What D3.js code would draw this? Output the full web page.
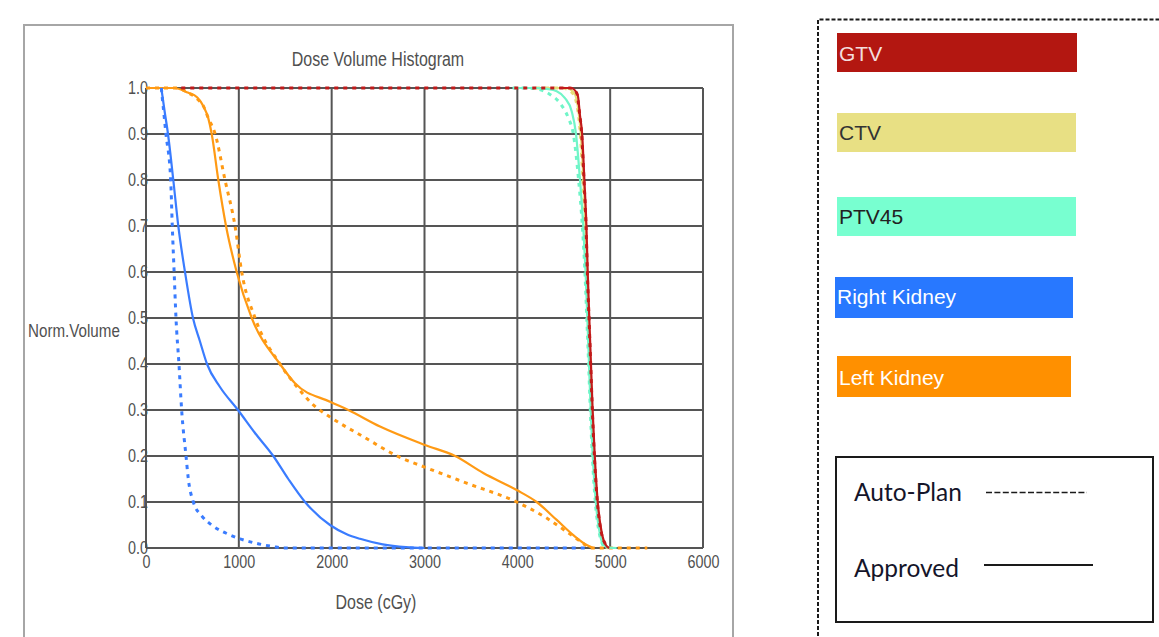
<!DOCTYPE html>
<html>
<head>
<meta charset="utf-8">
<script src="https://cdn.jsdelivr.net/npm/d3@7/dist/d3.min.js"></script>
<style>
  html, body { margin: 0; padding: 0; background: #fff; }
  svg { display: block; }
</style>
</head>
<body>
<svg id="chart" width="1159" height="637"></svg>
<script>
// ---------------- DATA (dose cGy, normalized volume) ----------------
const xTicks = [0, 1000, 2000, 3000, 4000, 5000, 6000];
const yTicks = [0.0, 0.1, 0.2, 0.3, 0.4, 0.5, 0.6, 0.7, 0.8, 0.9, 1.0];

const structures = ["GTV", "CTV", "PTV45", "Right Kidney", "Left Kidney"];
const structureColors = ["#b31711", "#e8e084", "#78ffd0", "#2878ff", "#ff9000"];
const lineColors = ["#c21a1a", "#e6dc78", "#70f5c8", "#3a7cff", "#ff9a14"];
const legendTextColors = ["#f3dede", "#333333", "#222222", "#ffffff", "#ffffff"];

const planTypes = ["Auto-Plan", "Approved"];

const rightKidneyAuto = [[165,1.0],[215,0.9],[266,0.8],[283,0.7],[303,0.6],[323,0.5],[355,0.4],[384,0.3],[431,0.2],[456,0.15],[510,0.1],[600,0.07],[707,0.05],[887,0.03],[1012,0.02],[1192,0.01],[1370,0.003],[1480,0],[4750,0]];
const rightKidneyApproved = [[165,1.0],[200,0.95],[237,0.9],[294,0.8],[348,0.7],[420,0.6],[506,0.5],[580,0.45],[657,0.4],[797,0.35],[991,0.3],[1174,0.25],[1371,0.2],[1533,0.15],[1713,0.1],[1982,0.05],[2162,0.03],[2305,0.02],[2550,0.008],[2800,0.002],[3000,0]];

const leftKidneyAuto = [[0,1.0],[330,1.0],[450,0.99],[560,0.975],[620,0.96],[670,0.935],[745,0.9],[851,0.8],[959,0.7],[1031,0.6],[1175,0.5],[1443,0.4],[1623,0.351],[1802,0.311],[1982,0.285],[2341,0.242],[2736,0.197],[2987,0.177],[3454,0.141],[3993,0.1],[4316,0.065],[4531,0.0355],[4711,0.01],[4783,0],[5400,0]];
const leftKidneyApproved = [[0,1.0],[300,1.0],[450,0.99],[550,0.98],[620,0.96],[670,0.935],[708,0.9],[779,0.8],[862,0.7],[977,0.6],[1139,0.5],[1443,0.4],[1605,0.358],[1982,0.318],[2179,0.3],[2521,0.264],[3005,0.224],[3330,0.2],[3633,0.163],[3993,0.126],[4208,0.1],[4424,0.061],[4603,0.028],[4747,0.0065],[4818,0]];

const gtvAuto = [[380,1.0],[4567,1.0],[4640,0.989],[4668,0.949],[4693,0.9],[4718,0.8],[4740,0.7],[4754,0.6],[4772,0.5],[4790,0.4],[4808,0.3],[4830,0.2],[4862,0.1],[4909,0.03],[4950,0.008],[4980,0]];
const gtvApproved = [[4450,1.0],[4580,1.0],[4650,0.985],[4675,0.94],[4698,0.9],[4722,0.8],[4744,0.7],[4758,0.6],[4775,0.5],[4793,0.4],[4811,0.3],[4834,0.2],[4866,0.1],[4912,0.03],[4955,0.006],[4990,0]];

const ctvAuto = [[4200,1.0],[4480,1.0],[4590,0.99],[4645,0.96],[4678,0.9],[4706,0.8],[4730,0.7],[4747,0.6],[4765,0.5],[4783,0.4],[4801,0.3],[4823,0.2],[4855,0.1],[4902,0.03],[4940,0.006],[4975,0]];
const ctvApproved = [[4300,1.0],[4520,1.0],[4610,0.99],[4655,0.955],[4684,0.9],[4712,0.8],[4735,0.7],[4751,0.6],[4768,0.5],[4786,0.4],[4804,0.3],[4826,0.2],[4858,0.1],[4905,0.03],[4945,0.006],[4985,0]];

const ptvAuto = [[3950,1.0],[4100,1.0],[4208,0.998],[4352,0.986],[4460,0.967],[4549,0.935],[4603,0.9],[4660,0.8],[4700,0.7],[4728,0.6],[4748,0.5],[4768,0.4],[4786,0.3],[4808,0.2],[4840,0.1],[4885,0.03],[4920,0.007],[4960,0]];
const ptvApproved = [[3950,1.0],[4200,1.0],[4316,0.998],[4424,0.993],[4513,0.978],[4586,0.949],[4632,0.9],[4675,0.8],[4710,0.7],[4735,0.6],[4754,0.5],[4772,0.4],[4790,0.3],[4812,0.2],[4845,0.1],[4890,0.03],[4925,0.007],[4990,0.001],[5070,0]];

// ---------------- SETUP ----------------
const svg = d3.select("#chart");

function hasFont(name) {
  const c = document.createElement("canvas").getContext("2d");
  const s = "Dose Volume Histogram 0123";
  c.font = "40px monospace"; const w0 = c.measureText(s).width;
  c.font = `40px "${name}", monospace`; const w1 = c.measureText(s).width;
  return Math.abs(w0 - w1) > 0.5;
}
const narrowOK = hasFont("Liberation Sans Narrow");
const chartFont = narrowOK ? "'Liberation Sans Narrow', 'Liberation Sans', Arial, sans-serif" : "'Liberation Sans', Arial, sans-serif";
const sx = narrowOK ? 1 : 0.82;

function chartText(g, x, y, str, size, anchor) {
  return g.append("text")
    .attr("transform", `translate(${x},${y}) scale(${sx},1)`)
    .attr("text-anchor", anchor || "start")
    .attr("font-family", chartFont)
    .attr("font-size", size)
    .attr("fill", "#505050")
    .text(str);
}

// outer chart frame
svg.append("rect").attr("x", 24).attr("y", 25).attr("width", 709).attr("height", 640)
  .attr("fill", "none").attr("stroke", "#a6a6a6").attr("stroke-width", 2);

const plot = { left: 146, right: 703, top: 88, bottom: 548 };
const x = d3.scaleLinear().domain([0, 6000]).range([plot.left, plot.right]);
const y = d3.scaleLinear().domain([0, 1]).range([plot.bottom, plot.top]);

// grid
const grid = svg.append("g");
grid.selectAll("line.v").data(xTicks).join("line")
  .attr("x1", d => x(d)).attr("x2", d => x(d)).attr("y1", y(0)).attr("y2", y(1))
  .attr("stroke", "#555").attr("stroke-width", 2);
grid.selectAll("line.h").data(yTicks).join("line")
  .attr("y1", d => y(d)).attr("y2", d => y(d)).attr("x1", x(0)).attr("x2", x(6000))
  .attr("stroke", "#555").attr("stroke-width", 2);

// axes (labels only)
const xAxis = svg.append("g").attr("transform", `translate(0,${plot.bottom})`)
  .call(d3.axisBottom(x).tickValues(xTicks).tickSize(0).tickFormat(d3.format("d")));
xAxis.select(".domain").remove();
xAxis.selectAll("text")
  .attr("y", 0).attr("dy", null)
  .attr("transform", `translate(0,20) scale(${sx},1)`)
  .attr("font-family", chartFont).attr("font-size", 17.5).attr("fill", "#505050");

const yAxis = svg.append("g").attr("transform", `translate(${plot.left},0)`)
  .call(d3.axisLeft(y).tickValues(yTicks).tickSize(0).tickFormat(d3.format(".1f")));
yAxis.select(".domain").remove();
yAxis.selectAll("text")
  .attr("x", 0).attr("dy", null)
  .attr("transform", `translate(2,5) scale(${sx},1)`)
  .attr("text-anchor", "end")
  .attr("font-family", chartFont).attr("font-size", 17.5).attr("fill", "#505050");

chartText(svg, 378, 66, "Dose Volume Histogram", 19.5, "middle");
chartText(svg, 28, 337, "Norm.Volume", 18.5, "start");
chartText(svg, 376, 609, "Dose (cGy)", 19.5, "middle");

// ---------------- CURVES ----------------
const line = d3.line().x(d => x(d[0])).y(d => y(d[1])).curve(d3.curveMonotoneX);

const curves = [
  { data: leftKidneyApproved, s: 4, dashed: false },
  { data: leftKidneyAuto, s: 4, dashed: true },
  { data: rightKidneyApproved, s: 3, dashed: false },
  { data: rightKidneyAuto, s: 3, dashed: true },
  { data: ctvAuto, s: 1, dashed: true },
  { data: ctvApproved, s: 1, dashed: false },
  { data: ptvAuto, s: 2, dashed: true },
  { data: ptvApproved, s: 2, dashed: false },
  { data: gtvApproved, s: 0, dashed: false },
  { data: gtvAuto, s: 0, dashed: true }
];
const cg = svg.append("g");
curves.forEach(c => {
  cg.append("path").attr("d", line(c.data))
    .attr("fill", "none")
    .attr("stroke", lineColors[c.s])
    .attr("stroke-width", c.dashed ? 3 : 2.2)
    .attr("stroke-dasharray", c.dashed ? "4,5" : null)
    .attr("stroke-linejoin", "round");
});

// ---------------- LEGEND ----------------
svg.append("path")
  .attr("d", "M818,660 L818,19.5 L1170,19.5")
  .attr("fill", "none").attr("stroke", "#1a1a1a").attr("stroke-width", 2)
  .attr("stroke-dasharray", "4,2");

const swatches = [
  { x: 837, y: 33, w: 240, h: 39, ty: 61 },
  { x: 837, y: 113, w: 239, h: 39, ty: 140 },
  { x: 837, y: 197, w: 239, h: 39, ty: 224 },
  { x: 835, y: 277, w: 238, h: 41, ty: 304 },
  { x: 837, y: 356, w: 234, h: 41, ty: 385 }
];
const lg = svg.append("g");
structures.forEach((name, i) => {
  const s = swatches[i];
  lg.append("rect").attr("x", s.x).attr("y", s.y).attr("width", s.w).attr("height", s.h)
    .attr("fill", structureColors[i]);
  lg.append("text").attr("x", s.x + 2).attr("y", s.ty)
    .attr("font-family", "'Liberation Sans', Arial, sans-serif")
    .attr("font-size", 21)
    .attr("fill", legendTextColors[i])
    .text(name);
});

// plan type box
const pb = svg.append("g");
pb.append("rect").attr("x", 836).attr("y", 457).attr("width", 317).attr("height", 165)
  .attr("fill", "none").attr("stroke", "#1a1a1a").attr("stroke-width", 2);
const planRows = [
  { ty: 501, ly: 492.5, x1: 986, x2: 1087, dashed: true },
  { ty: 577, ly: 565, x1: 984, x2: 1093, dashed: false }
];
planTypes.forEach((p, i) => {
  const r = planRows[i];
  pb.append("text").attr("x", 854).attr("y", r.ty)
    .attr("font-family", "Lato, 'Open Sans', sans-serif").attr("font-size", 24.5)
    .attr("fill", "#15152a").text(p);
  pb.append("line").attr("x1", r.x1).attr("x2", r.x2).attr("y1", r.ly).attr("y2", r.ly)
    .attr("stroke", "#1a1a1a").attr("stroke-width", r.dashed ? 1.5 : 2)
    .attr("stroke-dasharray", r.dashed ? "6,2.4" : null);
});
</script>
</body>
</html>
